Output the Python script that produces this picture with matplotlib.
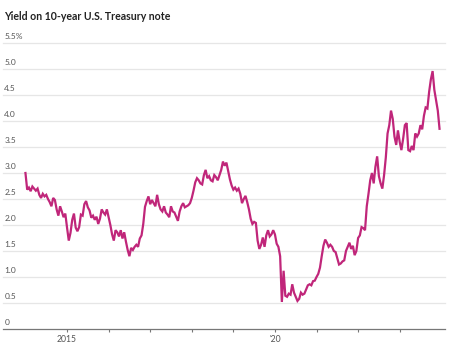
import numpy as np
import matplotlib
matplotlib.use("Agg")
import matplotlib.pyplot as plt

# semi-monthly readings of the 10-year yield, Jan 2014 - Dec 2023
y2014 = [3.00, 2.68, 2.72, 2.65, 2.74, 2.70, 2.66, 2.70, 2.58, 2.52, 2.60, 2.55,
         2.58, 2.50, 2.44, 2.36, 2.52, 2.48, 2.30, 2.18, 2.36, 2.26, 2.15, 2.22]
y2015 = [1.95, 1.70, 1.85, 2.10, 2.22, 1.95, 1.88, 1.96, 2.20, 2.18, 2.40, 2.46,
         2.34, 2.28, 2.14, 2.18, 2.10, 2.16, 2.02, 2.12, 2.30, 2.24, 2.20, 2.30]
y2016 = [2.15, 2.00, 1.82, 1.70, 1.90, 1.86, 1.78, 1.90, 1.74, 1.86, 1.68, 1.52,
         1.40, 1.56, 1.52, 1.58, 1.62, 1.58, 1.74, 1.80, 2.02, 2.35, 2.46, 2.55]
y2017 = [2.40, 2.48, 2.42, 2.36, 2.58, 2.40, 2.30, 2.26, 2.36, 2.24, 2.20, 2.15,
         2.36, 2.26, 2.24, 2.16, 2.08, 2.26, 2.36, 2.42, 2.34, 2.36, 2.38, 2.42]
y2018 = [2.52, 2.66, 2.82, 2.90, 2.86, 2.80, 2.78, 2.96, 3.06, 2.90, 2.94, 2.86,
         2.84, 2.96, 2.92, 2.86, 2.96, 3.06, 3.22, 3.14, 3.20, 3.04, 2.88, 2.76]
y2019 = [2.68, 2.72, 2.66, 2.70, 2.60, 2.42, 2.50, 2.56, 2.44, 2.30, 2.12, 2.02,
         2.06, 2.04, 1.70, 1.54, 1.62, 1.76, 1.58, 1.80, 1.90, 1.78, 1.82, 1.90]
y2020 = [1.82, 1.64, 1.58, 1.40, 0.52, 1.12, 0.64, 0.62, 0.68, 0.66, 0.86, 0.70,
         0.62, 0.54, 0.58, 0.70, 0.66, 0.68, 0.76, 0.84, 0.86, 0.84, 0.92, 0.93]
y2021 = [1.00, 1.06, 1.18, 1.40, 1.60, 1.72, 1.66, 1.58, 1.62, 1.58, 1.50, 1.48,
         1.36, 1.24, 1.26, 1.30, 1.32, 1.50, 1.58, 1.66, 1.54, 1.60, 1.42, 1.50]
y2022 = [1.75, 1.80, 1.96, 1.94, 1.90, 2.36, 2.60, 2.86, 3.00, 2.80, 3.12, 3.32,
         2.94, 2.80, 2.70, 2.96, 3.30, 3.76, 3.92, 4.20, 4.04, 3.70, 3.54, 3.82]
y2023 = [3.60, 3.44, 3.66, 3.92, 3.96, 3.44, 3.42, 3.52, 3.44, 3.76, 3.70, 3.76,
         3.92, 3.84, 4.10, 4.26, 4.24, 4.56, 4.80, 4.96, 4.60, 4.40, 4.20, 3.85]

yields = y2014 + y2015 + y2016 + y2017 + y2018 + y2019 + y2020 + y2021 + y2022 + y2023
start_year = 2014
per_year = 24

ytick_vals = [0, 0.5, 1.0, 1.5, 2.0, 2.5, 3.0, 3.5, 4.0, 4.5, 5.0, 5.5]
ytick_labels = ["0", "0.5", "1.0", "1.5", "2.0", "2.5", "3.0", "3.5", "4.0", "4.5", "5.0", "5.5%"]
xtick_years = [2015, 2016, 2017, 2018, 2019, 2020, 2021, 2022, 2023]
xtick_labels = ["2015", "", "", "", "", "'20", "", "", ""]

t = start_year + np.arange(len(yields)) / per_year

fig = plt.figure(figsize=(4.54, 3.5), dpi=100)
ax = fig.add_axes([3/454, 21/350, 442/454, 286/350])

ax.plot(t, yields, color="#c0267a", lw=1.6, solid_joinstyle="miter", zorder=3)

ax.set_xlim(2013.46, 2024.09)
ax.set_ylim(0, 5.5)

for v in ytick_vals[1:]:
    ax.axhline(v, color="#e6e6e6", lw=0.9, zorder=1, clip_on=False)
for v, lab in zip(ytick_vals, ytick_labels):
    ax.text(0.003, v + 0.06, lab, transform=ax.get_yaxis_transform(),
            ha="left", va="bottom", fontsize=6, color="#555555", family="Lato")

for s in ["top", "right", "left"]:
    ax.spines[s].set_visible(False)
ax.spines["bottom"].set_color("#777777")
ax.spines["bottom"].set_linewidth(0.9)
ax.set_yticks([])
ax.set_xticks(xtick_years)
ax.set_xticklabels(xtick_labels, fontsize=6.2, color="#555555", family="Lato")
ax.tick_params(axis="x", length=2.5, width=0.8, color="#777777", pad=2)

fig.text(4/454, 1 - 17/350, "Yield on 10-year U.S. Treasury note", ha="left", va="center",
         fontsize=7.6, fontweight="bold", color="#222222", family="Lato")

fig.savefig("out.png", dpi=100)
